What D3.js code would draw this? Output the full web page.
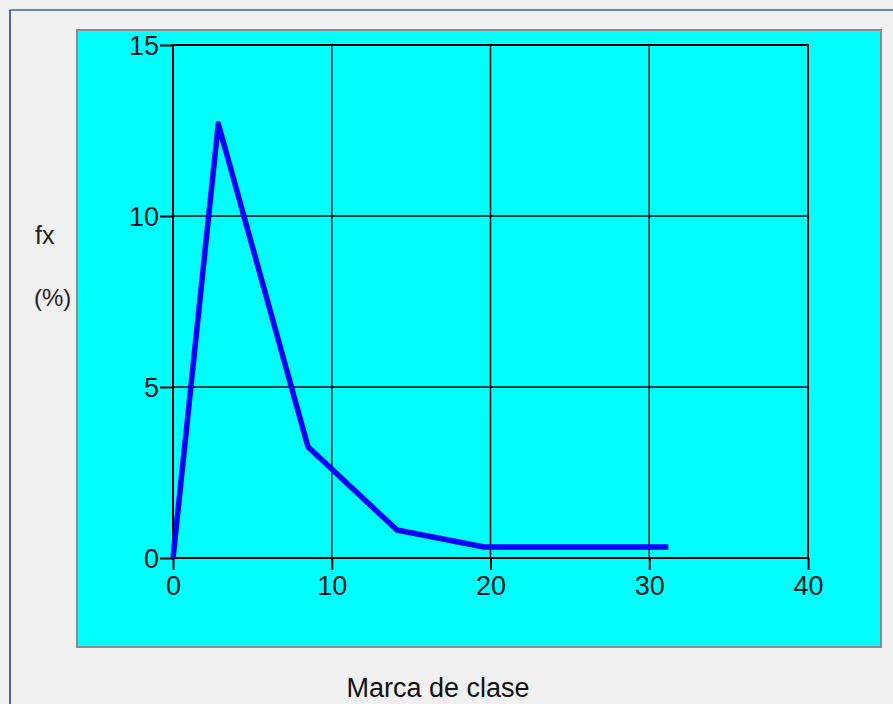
<!DOCTYPE html>
<html><head><meta charset="utf-8">
<script src="https://cdn.jsdelivr.net/npm/d3@7/dist/d3.min.js"></script>
<style>body{margin:0;background:#f0f0f0;}svg{display:block;}</style>
</head><body>
<script>
const classMarks = [0, 2.85, 8.5, 14.1, 19.6, 25.4, 31.2];
const fxValues   = [0, 12.7, 3.25, 0.82, 0.32, 0.32, 0.32];
const xTicks = [0, 10, 20, 30, 40];
const yTicks = [0, 5, 10, 15];
const xTitle = "Marca de clase";
const yTitle = ["fx", "(%)"];

const W = 893, H = 704;
const svg = d3.select("body").append("svg").attr("width", W).attr("height", H);
svg.append("rect").attr("width", W).attr("height", H).attr("fill", "#f0f0f0");
// window frame lines
svg.append("line").attr("x1", 10).attr("x2", W).attr("y1", 10).attr("y2", 10).attr("stroke", "#4a5f9a").attr("stroke-width", 1.5);
svg.append("line").attr("x1", 10).attr("x2", 10).attr("y1", 10).attr("y2", H).attr("stroke", "#1e3a8a").attr("stroke-width", 1.5);
// cyan panel
svg.append("rect").attr("x", 77).attr("y", 30).attr("width", 804).attr("height", 617)
  .attr("fill", "#00ffff").attr("stroke", "#8c8c8c").attr("stroke-width", 2);

const x = d3.scaleLinear().domain([0, 40]).range([173, 808]);
const y = d3.scaleLinear().domain([0, 15]).range([558, 45]);

// grid
const g = svg.append("g");
g.selectAll(".vg").data(xTicks.slice(1, -1)).join("line")
  .attr("x1", d => x(d)).attr("x2", d => x(d)).attr("y1", y(15)).attr("y2", y(0))
  .attr("stroke", "#000").attr("stroke-width", 1.5);
g.selectAll(".hg").data(yTicks.slice(1, -1)).join("line")
  .attr("x1", x(0)).attr("x2", x(40)).attr("y1", d => y(d)).attr("y2", d => y(d))
  .attr("stroke", "#000").attr("stroke-width", 1.5);
// frame
g.append("rect").attr("x", x(0)).attr("y", y(15)).attr("width", x(40) - x(0)).attr("height", y(0) - y(15))
  .attr("fill", "none").attr("stroke", "#000").attr("stroke-width", 2);

const tf = "'Liberation Sans', Arial, sans-serif";
// axes
const xAxis = svg.append("g").attr("transform", `translate(0,${y(0)})`)
  .call(d3.axisBottom(x).tickValues(xTicks).tickSize(12).tickPadding(6).tickFormat(d3.format("d")));
const yAxis = svg.append("g").attr("transform", `translate(${x(0)},0)`)
  .call(d3.axisLeft(y).tickValues(yTicks).tickSize(13).tickPadding(1).tickFormat(d3.format("d")));
[xAxis, yAxis].forEach(a => {
  a.select(".domain").remove();
  a.selectAll(".tick line").attr("stroke", "#000").attr("stroke-width", 2);
  a.selectAll("text").attr("fill", "#001a1a").style("font-family", tf).style("font-size", "27px");
});
yAxis.selectAll("text").attr("dy", "0.35em");

// line
svg.append("path").datum(classMarks.map((c, i) => [c, fxValues[i]]))
  .attr("d", d3.line().x(d => x(d[0])).y(d => y(d[1])))
  .attr("fill", "none").attr("stroke", "#0000ff").attr("stroke-width", 5.5).attr("stroke-linejoin", "round");

// titles
svg.append("text").attr("x", 35).attr("y", 244).text(yTitle[0]).attr("font-family", tf).attr("font-size", "25px").attr("fill", "#222");
svg.append("text").attr("x", 34).attr("y", 306).text(yTitle[1]).attr("font-family", tf).attr("font-size", "24px").attr("fill", "#222");
svg.append("text").attr("x", 438).attr("y", 697).attr("text-anchor", "middle").text(xTitle).attr("font-family", tf).attr("font-size", "27px").attr("fill", "#111");
</script>
</body></html>
